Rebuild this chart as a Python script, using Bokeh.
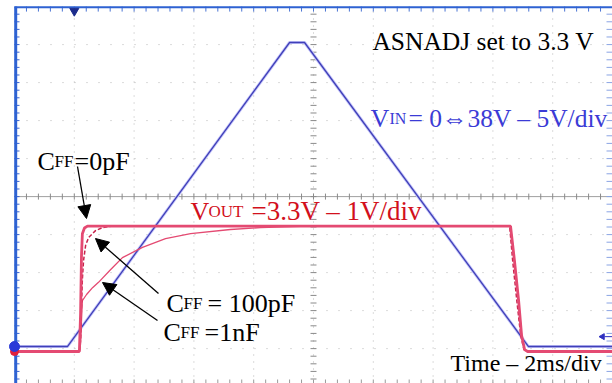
import numpy as np
from bokeh.plotting import figure
from bokeh.models import Range1d, Label, Arrow, NormalHead
from bokeh.embed import file_html
from bokeh.resources import INLINE

# ---------------- data ----------------
# time base: 2 ms/div, 10 horizontal divisions -> 0..20 ms
time_per_div = 2.0
x_divs = 10
# vertical graticule: 10 divisions (units of "div")
y_divs = 10

# channel settings
vin_volts_per_div = 5.0
vin_ground_div = 1.055
vout_volts_per_div = 1.0
vout_ground_div = 0.924

# VIN (blue trace), time in ms, volts
vin_t = [0.0, 1.77, 9.20, 9.70, 17.19, 20.0]
vin_v = [0.0, 0.0, 40.0, 40.0, 0.0, 0.0]

# VOUT with CFF = 0 pF (thick solid)
v0pf_t = [0.0, 2.17, 2.21, 2.24, 2.27, 2.34, 2.44, 16.59, 16.72, 16.86, 16.96, 17.06, 17.16, 20.0]
v0pf_v = [0.0, 0.0, 1.0, 2.5, 3.1, 3.25, 3.3, 3.3, 2.4, 1.34, 0.42, 0.05, 0.0, 0.0]

# VOUT with CFF = 100 pF (dashed)
v100pf_t = [0.0, 2.17, 2.21, 2.24, 2.27, 2.31, 2.38, 2.48, 2.71, 2.94, 3.28, 16.56, 16.66, 16.80, 16.93, 17.04, 17.16, 20.0]
v100pf_v = [0.0, 0.0, 0.3, 1.2, 1.9, 2.4, 2.8, 3.0, 3.18, 3.26, 3.3, 3.3, 2.4, 1.34, 0.42, 0.05, 0.0, 0.0]

# VOUT with CFF = 1 nF (thin solid)
v1nf_t = [0.0, 2.17, 2.21, 2.24, 2.27, 2.41, 2.61, 2.81, 3.21, 3.61, 4.28, 5.05, 5.89, 7.22, 8.23, 9.57, 10.90,
          16.59, 16.72, 16.86, 16.96, 17.06, 17.16, 20.0]
v1nf_v = [0.0, 0.0, 0.2, 0.8, 1.34, 1.5, 1.68, 1.82, 2.15, 2.47, 2.74, 2.97, 3.10, 3.21, 3.26, 3.29, 3.30,
          3.3, 2.4, 1.34, 0.42, 0.05, 0.0, 0.0]

trigger_time = 2.0
trigger_level = 1.3

# ---------------- figure ----------------
px_x = time_per_div / 59.8   # one pixel in ms
px_y = 1.0 / 38.0            # one pixel in div
T = time_per_div * x_divs
y0, y1 = 0.082, 10.16
p = figure(width=612, height=383, x_range=Range1d(-10 * px_x, T), y_range=Range1d(y0, y1),
           output_backend="svg", toolbar_location=None, x_axis_location=None, y_axis_location=None,
           min_border_left=4, min_border_right=0, min_border_top=0, min_border_bottom=0,
           outline_line_color=None, background_fill_color="white", border_fill_color="white")
p.grid.visible = False
p.extra_y_ranges = {
    "vin": Range1d((y0 - vin_ground_div) * vin_volts_per_div, (y1 - vin_ground_div) * vin_volts_per_div),
    "vout": Range1d((y0 - vout_ground_div) * vout_volts_per_div, (y1 - vout_ground_div) * vout_volts_per_div),
}

ytop = 10.0

# dotted graticule
gx = [time_per_div * k for k in range(1, x_divs)]
p.segment(x0=gx, y0=[y0] * len(gx), x1=gx, y1=[ytop] * len(gx), line_color="#b8b8b8", line_width=1, line_dash="1 6")
gy = [k for k in range(1, y_divs) if k != 5]
p.segment(x0=[0] * len(gy), y0=gy, x1=[T] * len(gy), y1=gy, line_color="#b8b8b8", line_width=1, line_dash="1 11")

# centre cross
p.segment(x0=[0], y0=[5], x1=[T], y1=[5], line_color="#a0a0a0", line_width=1)
tx = np.arange(0.4, T, 0.4)
p.segment(x0=tx, y0=5 - 3 * px_y, x1=tx, y1=5 + 3 * px_y, line_color="#8a8a8a", line_width=1)
ty = np.arange(0.2, ytop, 0.2)
p.segment(x0=10 - 3 * px_x, y0=ty, x1=10 + 3 * px_x, y1=ty, line_color="#8a8a8a", line_width=1)

# border ticks
p.segment(x0=tx, y0=ytop, x1=tx, y1=ytop - 5 * px_y, line_color="#4a74d4", line_width=1)
p.segment(x0=0, y0=ty, x1=5 * px_x, y1=ty, line_color="#3a64d0", line_width=1)
p.segment(x0=tx, y0=y0, x1=tx, y1=y0 + 4 * px_y, line_color="#9a9a9a", line_width=1)
p.segment(x0=T - 6 * px_x, y0=ty, x1=T, y1=ty, line_color="#8aa4e4", line_width=1)
# blue top and left border
p.segment(x0=[0], y0=[ytop - 0.6 * px_y], x1=[T], y1=[ytop - 0.6 * px_y], line_color="#2e62d2", line_width=2)
p.segment(x0=[1.2 * px_x], y0=[y0], x1=[1.2 * px_x], y1=[ytop], line_color="#2e62d2", line_width=3)

# traces
p.line(vin_t, vin_v, y_range_name="vin", line_color="#c4c4fa", line_width=3)
p.line(vin_t, vin_v, y_range_name="vin", line_color="#4040b8", line_width=1.3)
p.line(v1nf_t, v1nf_v, y_range_name="vout", line_color="#e44a72", line_width=1.3)
p.line(v100pf_t, v100pf_v, y_range_name="vout", line_color="#c8244c", line_width=1.5, line_dash="4 2")
p.line(v0pf_t, v0pf_v, y_range_name="vout", line_color="#e44a72", line_width=2.8)

# markers
p.scatter([0], [0], y_range_name="vout", marker="circle", size=8, color="#e0203c")
p.scatter([0], [0], y_range_name="vin", marker="circle", size=10, color="#2a3ad8")
p.scatter([trigger_time], [9.884], marker="inverted_triangle", size=9, color="#1c2c8c")
p.scatter([T - 10 * px_x], [trigger_level], y_range_name="vin", marker="triangle", angle=np.pi / 2,
          size=6, color="#3030c0")
p.segment(x0=[T - 8 * px_x], y0=[trigger_level], x1=[T], y1=[trigger_level], y_range_name="vin",
          line_color="#3030c0", line_width=1)

# texts
SERIF = "Liberation Serif"
def lab(x, y, text, size, color="black"):
    p.add_layout(Label(x=x, y=y, text=text, text_font=SERIF, text_font_size=size, text_color=color,
                       text_baseline="alphabetic", text_align="left"))

lab(11.97, 9.08, "ASNADJ set to 3.3 V", "25.5px")

BLUE = "#3b3bd6"
lab(11.906, 7.055, "V", "26px", BLUE)
lab(12.540, 7.055, "IN", "16px", BLUE)
lab(13.177, 7.055, "= 0\u21d438V \u2013 5V/div", "25.5px", BLUE)

RED = "#d2101c"
lab(5.886, 4.608, "V", "26px", RED)
lab(6.488, 4.608, "OUT", "17px", RED)
lab(7.926, 4.608, "=3.3V \u2013 1V/div", "27px", RED)

lab(0.769, 5.924, "C", "26px")
lab(1.338, 5.924, "FF", "17px")
lab(2.007, 5.924, "=0pF", "26px")

lab(5.084, 2.187, "C", "26px")
lab(5.652, 2.187, "FF", "17px")
lab(6.455, 2.187, "= 100pF", "26px")

lab(4.983, 1.424, "C", "26px")
lab(5.552, 1.424, "FF", "17px")
lab(6.355, 1.424, "=1nF", "26px")

lab(14.582, 0.634, "Time \u2013 2ms/div", "24px")

# arrows
def arr(xs, ys, xe, ye):
    p.add_layout(Arrow(end=NormalHead(size=13, fill_color="black", line_color="black"),
                       x_start=xs, y_start=ys, x_end=xe, y_end=ye, line_color="black", line_width=1.3))

arr(2.107, 5.792, 2.408, 4.424)
arr(4.816, 2.45, 2.709, 3.897)
arr(4.783, 1.739, 2.943, 2.739)

open("out.html", "w").write(file_html(p, INLINE))
